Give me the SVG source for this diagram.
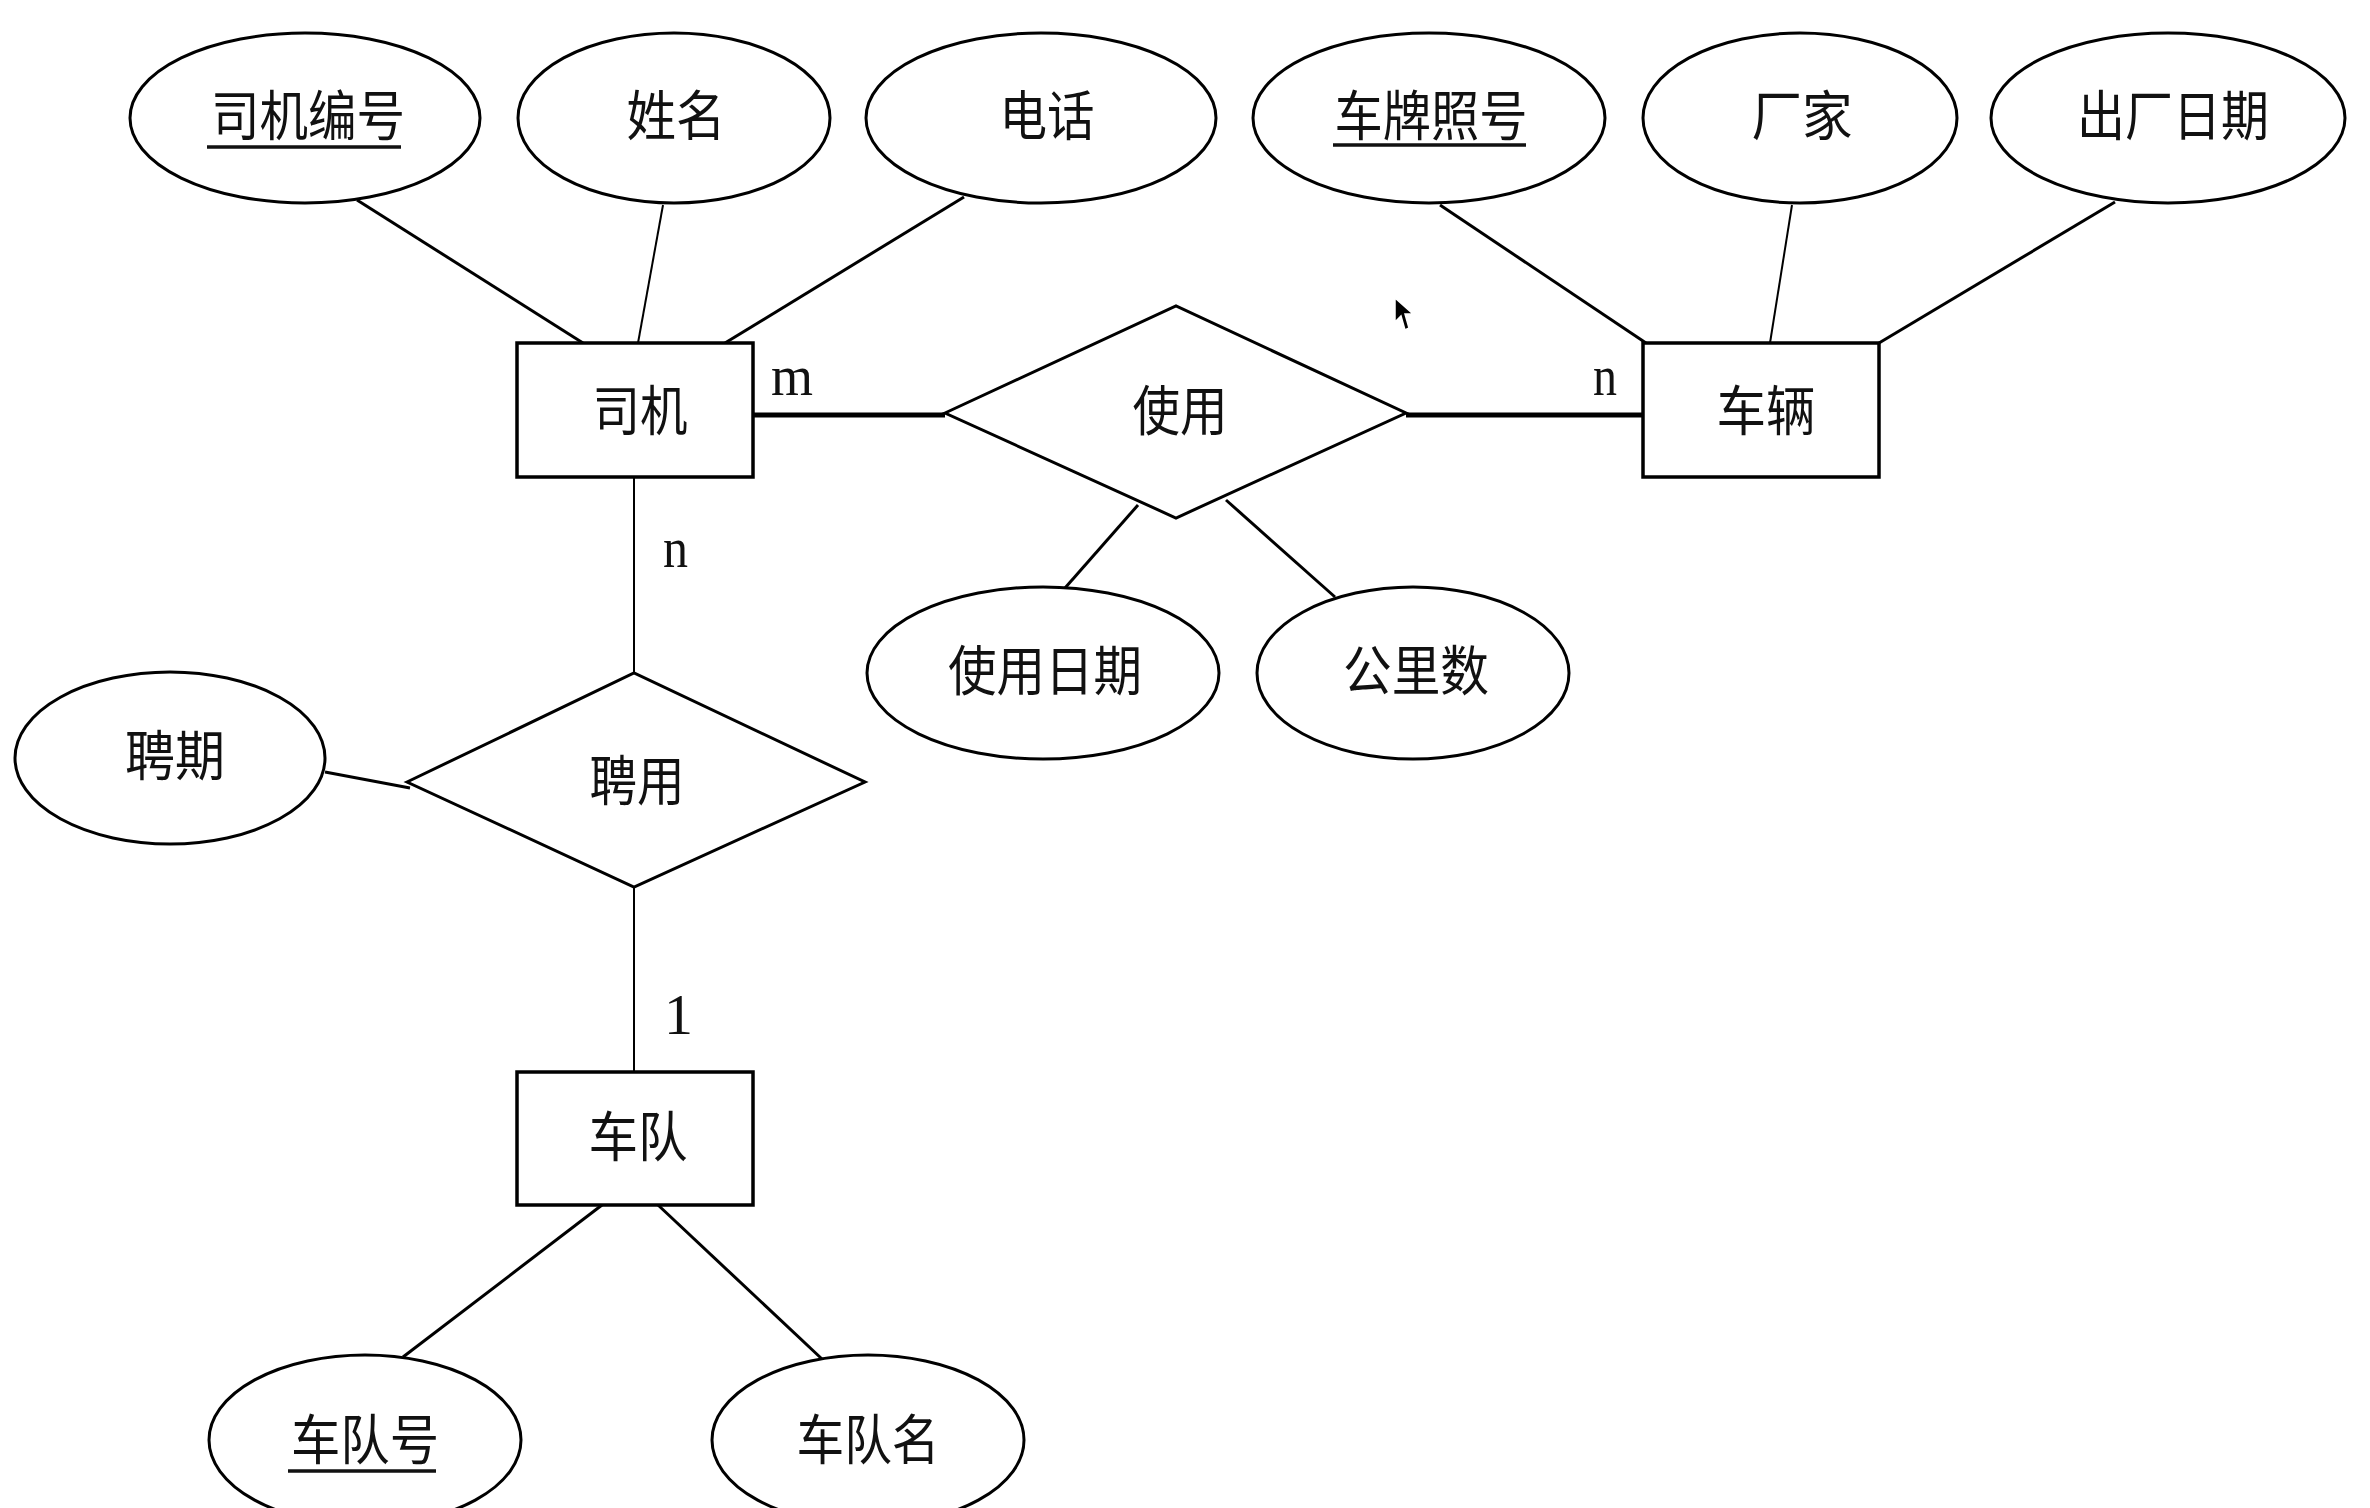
<svg xmlns="http://www.w3.org/2000/svg" width="2370" height="1508" viewBox="0 0 2370 1508">
<style>
.shape{fill:#fff;stroke:#000;stroke-width:3}
.ent{fill:#fff;stroke:#000;stroke-width:3.5}
.ln{stroke:#000;stroke-width:3;fill:none}
.thin{stroke:#000;stroke-width:2;fill:none}
.thick{stroke:#000;stroke-width:5;fill:none}
.t{font-family:"Noto Sans CJK SC","Noto Sans",sans-serif;font-size:54px;fill:#111;text-anchor:middle}
.c{font-family:"Liberation Serif","Times New Roman",serif;font-size:58px;fill:#111}
.ul{stroke:#111;stroke-width:3.5}
</style>
<rect width="2370" height="1508" fill="#fff"/>
<g id="connectors">
<line class="ln" x1="357" y1="200" x2="583" y2="343"/>
<line class="thin" x1="663" y1="205" x2="638" y2="343"/>
<line class="ln" x1="964" y1="197" x2="725" y2="343"/>
<line class="ln" x1="1440" y1="205" x2="1646" y2="343"/>
<line class="thin" x1="1792" y1="205" x2="1770" y2="343"/>
<line class="ln" x1="2115" y1="202" x2="1879" y2="343"/>
<line class="thick" x1="753" y1="415" x2="945" y2="415"/>
<line class="thick" x1="1406" y1="415" x2="1643" y2="415"/>
<line class="ln" x1="1138" y1="505" x2="1065" y2="588"/>
<line class="ln" x1="1226" y1="500" x2="1335" y2="597"/>
<line class="thin" x1="634" y1="477" x2="634" y2="673"/>
<line class="thin" x1="634" y1="887" x2="634" y2="1072"/>
<line class="ln" x1="325" y1="772" x2="410" y2="788"/>
<line class="ln" x1="602" y1="1205" x2="403" y2="1357"/>
<line class="ln" x1="658" y1="1205" x2="822" y2="1359"/>
<text class="c" x="771" y="395" textLength="42" lengthAdjust="spacingAndGlyphs">m</text>
<text class="c" x="1593" y="395" textLength="24" lengthAdjust="spacingAndGlyphs">n</text>
<text class="c" x="663" y="567" textLength="25" lengthAdjust="spacingAndGlyphs">n</text>
<text class="c" x="664" y="1034">1</text>
</g>
<g id="attr-sjbh"><ellipse class="shape" cx="305" cy="118" rx="175" ry="85"/><text class="t" x="308" y="136" textLength="194" lengthAdjust="spacingAndGlyphs">司机编号</text><line class="ul" x1="207" y1="147" x2="401" y2="147"/></g>
<g id="attr-xm"><ellipse class="shape" cx="674" cy="118" rx="156" ry="85"/><text class="t" x="676" y="136" textLength="99" lengthAdjust="spacingAndGlyphs">姓名</text></g>
<g id="attr-dh"><ellipse class="shape" cx="1041" cy="118" rx="175" ry="85"/><text class="t" x="1047" y="136" textLength="95" lengthAdjust="spacingAndGlyphs">电话</text></g>
<g id="attr-cphh"><ellipse class="shape" cx="1429" cy="118" rx="176" ry="85"/><text class="t" x="1431" y="136" textLength="193" lengthAdjust="spacingAndGlyphs">车牌照号</text><line class="ul" x1="1333" y1="145" x2="1526" y2="145"/></g>
<g id="attr-cj"><ellipse class="shape" cx="1800" cy="118" rx="157" ry="85"/><text class="t" x="1802" y="136" textLength="101" lengthAdjust="spacingAndGlyphs">厂家</text></g>
<g id="attr-ccrq"><ellipse class="shape" cx="2168" cy="118" rx="177" ry="85"/><text class="t" x="2173" y="136" textLength="192" lengthAdjust="spacingAndGlyphs">出厂日期</text></g>
<g id="ent-sj"><rect class="ent" x="517" y="343" width="236" height="134"/><text class="t" x="640" y="431" textLength="95" lengthAdjust="spacingAndGlyphs">司机</text></g>
<g id="ent-cl"><rect class="ent" x="1643" y="343" width="236" height="134"/><text class="t" x="1766" y="431" textLength="99" lengthAdjust="spacingAndGlyphs">车辆</text></g>
<g id="rel-sy"><polygon class="shape" points="945,413 1176,306 1406,413 1176,518"/><text class="t" x="1180" y="431" textLength="95" lengthAdjust="spacingAndGlyphs">使用</text></g>
<g id="attr-syrq"><ellipse class="shape" cx="1043" cy="673" rx="176" ry="86"/><text class="t" x="1045" y="691" textLength="194" lengthAdjust="spacingAndGlyphs">使用日期</text></g>
<g id="attr-gls"><ellipse class="shape" cx="1413" cy="673" rx="156" ry="86"/><text class="t" x="1416" y="691" textLength="146" lengthAdjust="spacingAndGlyphs">公里数</text></g>
<g id="attr-pq"><ellipse class="shape" cx="170" cy="758" rx="155" ry="86"/><text class="t" x="175" y="776" textLength="100" lengthAdjust="spacingAndGlyphs">聘期</text></g>
<g id="rel-py"><polygon class="shape" points="407,782 634,673 865,782 634,887"/><text class="t" x="637" y="801" textLength="95" lengthAdjust="spacingAndGlyphs">聘用</text></g>
<g id="ent-cd"><rect class="ent" x="517" y="1072" width="236" height="133"/><text class="t" x="638" y="1157" textLength="99" lengthAdjust="spacingAndGlyphs">车队</text></g>
<g id="attr-cdh"><ellipse class="shape" cx="365" cy="1440" rx="156" ry="85"/><text class="t" x="365" y="1460" textLength="148" lengthAdjust="spacingAndGlyphs">车队号</text><line class="ul" x1="288" y1="1471" x2="436" y2="1471"/></g>
<g id="attr-cdm"><ellipse class="shape" cx="868" cy="1440" rx="156" ry="85"/><text class="t" x="868" y="1460" textLength="143" lengthAdjust="spacingAndGlyphs">车队名</text></g>
<g id="cursor"><polygon points="1395,298 1395,322 1401,316 1405,330 1409,328 1405,314 1413,314" fill="#000" stroke="#fff" stroke-width="1.5"/></g>
</svg>
